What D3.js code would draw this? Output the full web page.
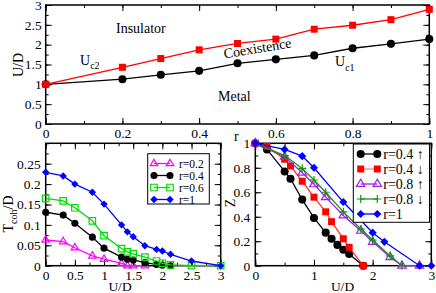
<!DOCTYPE html>
<html>
<head>
<meta charset="utf-8">
<script src="https://cdn.jsdelivr.net/npm/d3@7"></script>
<style>
  body { margin: 0; background: #fff; }
  text { font-family: "Liberation Serif", "Times New Roman", serif; fill: #000; }
</style>
</head>
<body>
<script>
// ---- top panel: phase diagram U/D vs r
var rVals = [0, 0.2, 0.3, 0.4, 0.5, 0.6, 0.7, 0.8, 0.9, 1];
var uc1 = [1.0, 1.13, 1.24, 1.34, 1.53, 1.63, 1.73, 1.91, 2.02, 2.14];
var uc2 = [1.0, 1.43, 1.65, 1.87, 2.03, 2.14, 2.39, 2.49, 2.63, 2.89];

// ---- bottom left: Tcoh/D vs U/D
var tU02 = [0, 0.3, 0.5, 0.8, 1.0, 1.3, 1.4, 1.5, 1.7];
var t02 = [0.063, 0.059, 0.044, 0.024, 0.016, 0.006, 0, 0, 0];
var tU04 = [0, 0.3, 0.5, 0.8, 1.0, 1.3, 1.4, 1.5, 1.7, 1.9, 2.0, 2.14];
var t04 = [0.131, 0.124, 0.104, 0.07, 0.043, 0.021, 0.016, 0.014, 0.0075, 0.003, 0.001, 0];
var tU06 = [0, 0.3, 0.5, 0.8, 1.0, 1.3, 1.4, 1.5, 1.7, 1.9, 2.0, 2.14, 2.5, 3.0];
var t06 = [0.165, 0.159, 0.142, 0.11, 0.0735, 0.042, 0.034, 0.029, 0.021, 0.0115, 0.006, 0.002, 0, 0];
var tU10 = [0, 0.3, 0.5, 0.8, 1.0, 1.3, 1.4, 1.5, 1.7, 1.9, 2.0, 2.14, 2.5, 3.0];
var t10 = [0.229, 0.22, 0.2, 0.18, 0.151, 0.1, 0.083, 0.071, 0.049, 0.04, 0.036, 0.028, 0.0115, 0];

// ---- bottom right: Z vs U/D
var zU04u = [0, 0.2, 0.5, 0.6, 0.8, 1.0, 1.2, 1.3, 1.4, 1.5, 1.6, 1.84];
var z04u = [1, 0.95, 0.77, 0.71, 0.54, 0.39, 0.27, 0.22, 0.17, 0.13, 0.095, 0];
var zU04d = [0, 0.2, 0.5, 0.6, 0.8, 1.0, 1.2, 1.3, 1.5, 1.6, 1.84];
var z04d = [1, 0.975, 0.87, 0.815, 0.69, 0.56, 0.44, 0.36, 0.22, 0.15, 0];
var zU08u = [0, 0.5, 0.8, 1.0, 1.2, 1.5, 1.8, 2.0, 2.3, 2.5, 2.8];
var z08u = [1, 0.89, 0.76, 0.665, 0.56, 0.41, 0.285, 0.195, 0.07, 0, 0];
var zU08d = [0, 0.5, 0.8, 1.0, 1.2, 1.5, 1.8, 2.0, 2.3, 2.5];
var z08d = [1, 0.9, 0.795, 0.70, 0.60, 0.44, 0.30, 0.21, 0.08, 0];
var zU10 = [0, 0.5, 0.8, 1.0, 1.5, 2.0, 2.2, 2.8, 3.0];
var z10 = [1, 0.95, 0.895, 0.80, 0.52, 0.27, 0.195, 0, 0];

var legLeft = ["r=0.2", "r=0.4", "r=0.6", "r=1"];
var legRight = ["r=0.4 \u2191", "r=0.4 \u2193", "r=0.8 \u2191", "r=0.8 \u2193", "r=1"];

var serif = "'Liberation Serif', 'Times New Roman', serif";

var svg = d3.select("body").append("svg")
  .attr("width", 436)
  .attr("height", 293);

// scales
var xTop = d3.scaleLinear().domain([0, 1]).range([45.7, 429.3]);
var yTop = d3.scaleLinear().domain([0, 3]).range([124, 5]);
var xBL = d3.scaleLinear().domain([0, 3]).range([45.7, 220.7]);
var yBL = d3.scaleLinear().domain([0, 0.3]).range([265.7, 143.3]);
var xBR = d3.scaleLinear().domain([0, 3]).range([255.3, 431.3]);
var yBR = d3.scaleLinear().domain([0, 1]).range([265.7, 143.3]);

function range(a, b, s) {
  var out = [];
  for (var v = a; v <= b + 1e-9; v += s) out.push(+v.toFixed(4));
  return out;
}

// frame with inward ticks on all four sides
function frame(x, y, xMaj, xMin, yMaj, yMin, pad) {
  var g = svg.append("g");
  var x0 = x.range()[0], x1 = x.range()[1], y0 = y.range()[0], y1 = y.range()[1];
  var fmt = d3.format("~g");

  function ax(axis, tr, vals, size, labels) {
    var a = g.append("g").attr("transform", tr)
      .call(axis.tickValues(vals).tickSize(-size).tickSizeOuter(0)
        .tickPadding(labels ? pad : 0).tickFormat(labels ? fmt : ""));
    a.select(".domain").remove();
    a.selectAll("line").attr("stroke", "#000").attr("stroke-width", 1);
    a.attr("font-family", serif).attr("font-size", 13.5);
    a.selectAll("text").attr("font-family", serif).attr("fill", "#000");
  }
  ax(d3.axisBottom(x), `translate(0,${y0})`, xMin, 3, false);
  ax(d3.axisBottom(x), `translate(0,${y0})`, xMaj, 6, true);
  ax(d3.axisTop(x), `translate(0,${y1})`, xMin, 3, false);
  ax(d3.axisTop(x), `translate(0,${y1})`, xMaj, 6, false);
  ax(d3.axisLeft(y), `translate(${x0},0)`, yMin, 3, false);
  ax(d3.axisLeft(y), `translate(${x0},0)`, yMaj, 6, true);
  ax(d3.axisRight(y), `translate(${x1},0)`, yMin, 3, false);
  ax(d3.axisRight(y), `translate(${x1},0)`, yMaj, 6, false);

  g.append("rect")
    .attr("x", x0).attr("y", y1)
    .attr("width", x1 - x0).attr("height", y0 - y1)
    .attr("fill", "none").attr("stroke", "#000").attr("stroke-width", 1.5);
  return g;
}

// marker paths
function markerPath(kind, s) {
  if (kind == "circle") return d3.symbol(d3.symbolCircle, s * s * 0.8)();
  if (kind == "square" || kind == "squareOpen") return d3.symbol(d3.symbolSquare, s * s)();
  if (kind == "triOpen") return d3.symbol(d3.symbolTriangle, s * s * 0.43)();
  if (kind == "diamond") {
    var h = s * 0.37;
    return `M0,${-h}L${h},0L0,${h}L${-h},0Z`;
  }
  if (kind == "plus") {
    var p = s * 0.45;
    return `M${-p},0H${p}M0,${-p}V${p}`;
  }
}

function drawMarker(g, kind, cx, cy, color, s) {
  var open = (kind == "squareOpen" || kind == "triOpen" || kind == "plus");
  g.append("path")
    .attr("d", markerPath(kind, s))
    .attr("transform", `translate(${cx},${cy})`)
    .attr("fill", open ? "none" : color)
    .attr("stroke", open ? color : "none")
    .attr("stroke-width", 1.2);
}

function series(x, y, xs, ys, color, lineColor, kind, s) {
  var g = svg.append("g");
  var pts = xs.map((d, i) => [d, ys[i]]);
  g.append("path")
    .attr("d", d3.line().x(d => x(d[0])).y(d => y(d[1]))(pts))
    .attr("fill", "none")
    .attr("stroke", lineColor)
    .attr("stroke-width", 1.3);
  pts.forEach(d => drawMarker(g, kind, x(d[0]), y(d[1]), color, s));
}

// ================= top panel
frame(xTop, yTop, range(0, 1, 0.2), range(0, 1, 0.1), range(0, 3, 0.5), range(0, 3, 0.25), 4);
series(xTop, yTop, rVals, uc1, "#000", "#000", "circle", 8);
series(xTop, yTop, rVals, uc2, "#f00", "#f00", "square", 7);

svg.append("text").attr("x", 116).attr("y", 32.5).attr("font-size", 14).text("Insulator");
svg.append("text").attr("x", 218).attr("y", 101).attr("font-size", 14).text("Metal");
svg.append("text").attr("font-size", 14)
  .attr("transform", "translate(224.5,58.5) rotate(-9.5)").text("Coexistence");

var lc2 = svg.append("text").attr("x", 80).attr("y", 65).attr("font-size", 14);
lc2.append("tspan").text("U");
lc2.append("tspan").attr("font-size", 10).attr("dy", 4).text("c2");
var lc1 = svg.append("text").attr("x", 335).attr("y", 66).attr("font-size", 14);
lc1.append("tspan").text("U");
lc1.append("tspan").attr("font-size", 10).attr("dy", 5).text("c1");

svg.append("text").attr("font-size", 14).attr("text-anchor", "middle")
  .attr("transform", "translate(22.5,65) rotate(-90)").text("U/D");

// ================= bottom left
frame(xBL, yBL, range(0, 3, 0.5), range(0, 3, 0.25), range(0, 0.25, 0.05), range(0, 0.3, 0.025), 5);
series(xBL, yBL, tU02, t02, "#f0f", "#f0f", "triOpen", 7.5);
series(xBL, yBL, tU04, t04, "#000", "#000", "circle", 7);
series(xBL, yBL, tU06, t06, "#0d0", "#0d0", "squareOpen", 6.5);
series(xBL, yBL, tU10, t10, "#00f", "#00f", "diamond", 10);

var ylb = svg.append("text").attr("font-size", 14).attr("text-anchor", "middle")
  .attr("transform", "translate(12.5,214) rotate(-90)");
ylb.append("tspan").text("T");
ylb.append("tspan").attr("font-size", 10).attr("dy", 4).text("coh");
ylb.append("tspan").attr("dy", -4).text("/D");

svg.append("text").attr("font-size", 13.5).attr("text-anchor", "middle")
  .attr("x", 120).attr("y", 290.5).text("U/D");

// legend
var legL = svg.append("g");
legL.append("rect").attr("x", 147.7).attr("y", 153.7).attr("width", 61.6).attr("height", 50.3)
  .attr("fill", "#fff").attr("stroke", "#000").attr("stroke-width", 1);
var legLStyle = [["#f0f", "triOpen", 7.5], ["#000", "circle", 7], ["#0d0", "squareOpen", 6.5], ["#00f", "diamond", 10]];
legLeft.forEach(function(t, i) {
  var yy = 163.5 + i * 12;
  var st = legLStyle[i];
  legL.append("line").attr("x1", 154).attr("x2", 170).attr("y1", yy).attr("y2", yy)
    .attr("stroke", st[0]).attr("stroke-width", 1.3);
  drawMarker(legL, st[1], 154, yy, st[0], st[2]);
  drawMarker(legL, st[1], 170, yy, st[0], st[2]);
  legL.append("text").attr("x", 179).attr("y", yy + 4).attr("font-size", 11.5).text(t);
});

// ================= bottom right
frame(xBR, yBR, range(0, 3, 1), range(0, 3, 0.5), range(0, 1, 0.2), range(0, 1, 0.1), 5);
series(xBR, yBR, zU04u, z04u, "#000", "#000", "circle", 8);
series(xBR, yBR, zU04d, z04d, "#f00", "#f33", "square", 7);
series(xBR, yBR, zU08u, z08u, "#a020f0", "#a020f0", "triOpen", 8.5);
series(xBR, yBR, zU08d, z08d, "#129612", "#129612", "plus", 9);
series(xBR, yBR, zU10, z10, "#00f", "#00f", "diamond", 11);

svg.append("text").attr("font-size", 14).attr("text-anchor", "middle")
  .attr("transform", "translate(235,203) rotate(-90)").text("Z");
svg.append("text").attr("font-size", 14).attr("x", 234).attr("y", 140.5).text("r");
svg.append("text").attr("font-size", 13.5).attr("text-anchor", "middle")
  .attr("x", 342.5).attr("y", 290.5).text("U/D");

var legR = svg.append("g");
legR.append("rect").attr("x", 353.3).attr("y", 144).attr("width", 76.2).attr("height", 78.3)
  .attr("fill", "#fff").attr("stroke", "#000").attr("stroke-width", 1);
var legRStyle = [["#000", "#000", "circle", 8], ["#f00", "#f88", "square", 7], ["#a020f0", "#a020f0", "triOpen", 8.5],
  ["#129612", "#129612", "plus", 9], ["#00f", "#00f", "diamond", 11]];
legRight.forEach(function(t, i) {
  var yy = 154 + i * 15;
  var st = legRStyle[i];
  legR.append("line").attr("x1", 360.7).attr("x2", 377.3).attr("y1", yy).attr("y2", yy)
    .attr("stroke", st[1]).attr("stroke-width", 1.3);
  drawMarker(legR, st[2], 360.7, yy, st[0], st[3]);
  drawMarker(legR, st[2], 377.3, yy, st[0], st[3]);
  legR.append("text").attr("x", 383.3).attr("y", yy + 5).attr("font-size", 14).text(t);
});
</script>
</body>
</html>
